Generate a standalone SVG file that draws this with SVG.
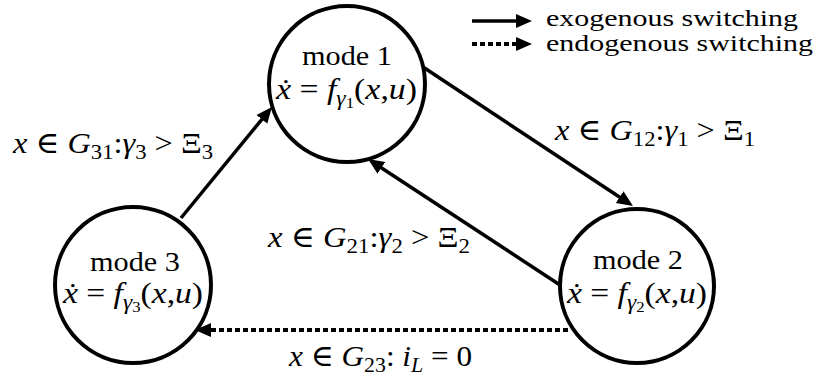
<svg xmlns="http://www.w3.org/2000/svg" width="820" height="380" viewBox="0 0 820 380">
<style>
.node{fill:#fff;stroke:#000;stroke-width:4}
.edge{fill:none;stroke:#000;stroke-width:3.5}
.dot{fill:none;stroke:#000;stroke-width:4;stroke-dasharray:5 3}
text{fill:#000}
.mode{font-size:27px}
.leg{font-size:24px}
.m{font-size:30px}
.i{font-style:italic}
.sub{font-size:21px;font-style:normal}
.subi{font-size:21px;font-style:italic}
.ss{font-size:15px;font-style:normal}
</style>
<defs>
<marker id="ah" markerUnits="userSpaceOnUse" markerWidth="18" markerHeight="16" viewBox="0 -8 18 16" refX="2" refY="0" orient="auto">
<path d="M0,-7 L16,0 L0,7 z" fill="#000"/>
</marker>
</defs>
<g id="connectors">
<line class="edge" x1="181" y1="218" x2="263.1" y2="117.8" marker-end="url(#ah)"/>
<line class="edge" x1="423" y1="67" x2="621.3" y2="198.3" marker-end="url(#ah)"/>
<line class="edge" x1="560" y1="285" x2="379.7" y2="166.7" marker-end="url(#ah)"/>
<line class="dot" x1="568" y1="330" x2="209" y2="330" marker-end="url(#ah)"/>
</g>
<g font-family="Liberation Serif, DejaVu Serif, serif">
<g id="mode1">
<circle class="node" cx="347" cy="84" r="78"/>
<text class="mode" x="302" y="65" textLength="90" lengthAdjust="spacingAndGlyphs">mode 1</text>
<text class="m" x="276" y="99" textLength="141" lengthAdjust="spacingAndGlyphs"><tspan class="i">ẋ</tspan> = <tspan class="i">f</tspan><tspan class="subi" dy="6">γ</tspan><tspan class="ss" dy="3">1</tspan><tspan dy="-9">(</tspan><tspan class="i">x</tspan>,<tspan class="i">u</tspan>)</text>
</g>
<g id="mode2">
<circle class="node" cx="637" cy="286" r="77"/>
<text class="mode" x="593" y="269" textLength="90" lengthAdjust="spacingAndGlyphs">mode 2</text>
<text class="m" x="567" y="303" textLength="140" lengthAdjust="spacingAndGlyphs"><tspan class="i">ẋ</tspan> = <tspan class="i">f</tspan><tspan class="subi" dy="6">γ</tspan><tspan class="ss" dy="3">2</tspan><tspan dy="-9">(</tspan><tspan class="i">x</tspan>,<tspan class="i">u</tspan>)</text>
</g>
<g id="mode3">
<circle class="node" cx="133" cy="285" r="78"/>
<text class="mode" x="90" y="271" textLength="90" lengthAdjust="spacingAndGlyphs">mode 3</text>
<text class="m" x="63" y="303" textLength="140" lengthAdjust="spacingAndGlyphs"><tspan class="i">ẋ</tspan> = <tspan class="i">f</tspan><tspan class="subi" dy="6">γ</tspan><tspan class="ss" dy="3">3</tspan><tspan dy="-9">(</tspan><tspan class="i">x</tspan>,<tspan class="i">u</tspan>)</text>
</g>
<g id="labels">
<text class="m" x="13" y="153" textLength="200" lengthAdjust="spacingAndGlyphs"><tspan class="i">x</tspan> ∈ <tspan class="i">G</tspan><tspan class="sub" dy="6">31</tspan><tspan dy="-6">:</tspan><tspan class="i">γ</tspan><tspan class="sub" dy="6">3</tspan><tspan dy="-6"> &gt; Ξ</tspan><tspan class="sub" dy="6">3</tspan></text>
<text class="m" x="555" y="140" textLength="200" lengthAdjust="spacingAndGlyphs"><tspan class="i">x</tspan> ∈ <tspan class="i">G</tspan><tspan class="sub" dy="6">12</tspan><tspan dy="-6">:</tspan><tspan class="i">γ</tspan><tspan class="sub" dy="6">1</tspan><tspan dy="-6"> &gt; Ξ</tspan><tspan class="sub" dy="6">1</tspan></text>
<text class="m" x="268" y="247" textLength="202" lengthAdjust="spacingAndGlyphs"><tspan class="i">x</tspan> ∈ <tspan class="i">G</tspan><tspan class="sub" dy="6">21</tspan><tspan dy="-6">:</tspan><tspan class="i">γ</tspan><tspan class="sub" dy="6">2</tspan><tspan dy="-6"> &gt; Ξ</tspan><tspan class="sub" dy="6">2</tspan></text>
<text class="m" x="289" y="366" textLength="183" lengthAdjust="spacingAndGlyphs"><tspan class="i">x</tspan> ∈ <tspan class="i">G</tspan><tspan class="sub" dy="6">23</tspan><tspan dy="-6">: </tspan><tspan class="i">i</tspan><tspan class="subi" dy="6">L</tspan><tspan dy="-6"> = 0</tspan></text>
</g>
<g id="legend">
<line class="edge" x1="472" y1="21" x2="518" y2="21" marker-end="url(#ah)"/>
<line class="dot" x1="472" y1="44" x2="518" y2="44" marker-end="url(#ah)"/>
<text class="leg" x="546" y="26" textLength="252" lengthAdjust="spacingAndGlyphs">exogenous switching</text>
<text class="leg" x="546" y="51" textLength="267" lengthAdjust="spacingAndGlyphs">endogenous switching</text>
</g>
</g>
</svg>
